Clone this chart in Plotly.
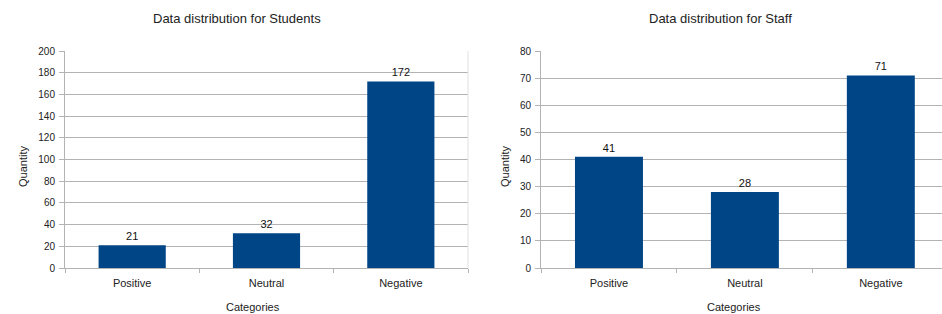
import plotly.graph_objects as go

categories = ["Positive", "Neutral", "Negative"]
students = [21, 32, 172]
staff = [41, 28, 71]
title_students = "Data distribution for Students"
title_staff = "Data distribution for Staff"
x_title = "Categories"
y_title = "Quantity"

W, H = 942, 314
BAR = "#004586"
GRID = "#b3b3b3"
FONT = "Liberation Sans, Arial, sans-serif"

def px_x(v):
    return v / W

def px_y(v):
    return 1 - v / H

fig = go.Figure()
fig.add_trace(go.Bar(x=categories, y=students, xaxis="x", yaxis="y",
                     marker=dict(color=BAR, line=dict(width=0)), width=0.5,
                     text=students, textposition="outside", cliponaxis=False,
                     textfont=dict(size=11, color="#111111", family=FONT)))
fig.add_trace(go.Bar(x=categories, y=staff, xaxis="x2", yaxis="y2",
                     marker=dict(color=BAR, line=dict(width=0)), width=0.5,
                     text=staff, textposition="outside", cliponaxis=False,
                     textfont=dict(size=11, color="#111111", family=FONT)))

xcommon = dict(type="category", showline=True, linecolor=GRID, linewidth=1,
               ticks="outside", tickson="boundaries", ticklen=4, tickcolor=GRID,
               showgrid=False, tickfont=dict(size=11, color="#222222", family=FONT),
               ticklabelstandoff=5, automargin=False, fixedrange=True)
ycommon = dict(showline=True, linecolor=GRID, linewidth=1, gridcolor=GRID, gridwidth=1,
               ticks="outside", ticklen=5, tickcolor=GRID, zeroline=False,
               tickfont=dict(size=10, color="#222222", family=FONT),
               ticklabelstandoff=2, automargin=False, fixedrange=True)

fig.update_layout(
    width=W, height=H,
    margin=dict(l=0, r=0, t=0, b=0),
    paper_bgcolor="white", plot_bgcolor="white",
    showlegend=False,
    font=dict(family=FONT, color="#222222"),
    xaxis=dict(domain=[px_x(65), px_x(468)], range=[-0.5, 2.5], anchor="y", **xcommon),
    yaxis=dict(domain=[px_y(268), px_y(51)], range=[0, 200], dtick=20, anchor="x", **ycommon),
    xaxis2=dict(domain=[px_x(541), 1.0], range=[-0.5, 2.45], anchor="y2", **xcommon),
    yaxis2=dict(domain=[px_y(268), px_y(51)], range=[0, 80], dtick=10, anchor="x2", **ycommon),
    bargap=0.5,
)

fig.add_shape(type="line", xref="paper", yref="paper", x0=px_x(468), x1=px_x(468),
              y0=px_y(268), y1=px_y(51), line=dict(color="#e0e0e0", width=1))

ann = []
for text, x, y, size, angle in [
    (title_students, 237, 19, 13, 0),
    (title_staff, 720, 19, 13, 0),
    (x_title, 253, 307, 11, 0),
    (x_title, 734, 307, 11, 0),
    (y_title, 23, 167, 11, -90),
    (y_title, 505, 167, 11, -90),
]:
    ann.append(dict(text=text, x=px_x(x), y=px_y(y), xref="paper", yref="paper",
                    showarrow=False, xanchor="center", yanchor="middle",
                    textangle=angle, font=dict(size=size, color="#222222", family=FONT)))
fig.update_layout(annotations=ann)

fig.write_html(
    "out.html",
    config={"displayModeBar": False, "staticPlot": False},
    post_script="document.body.style.margin='0';document.body.style.padding='0';"
                "document.body.style.overflow='hidden';",
)
